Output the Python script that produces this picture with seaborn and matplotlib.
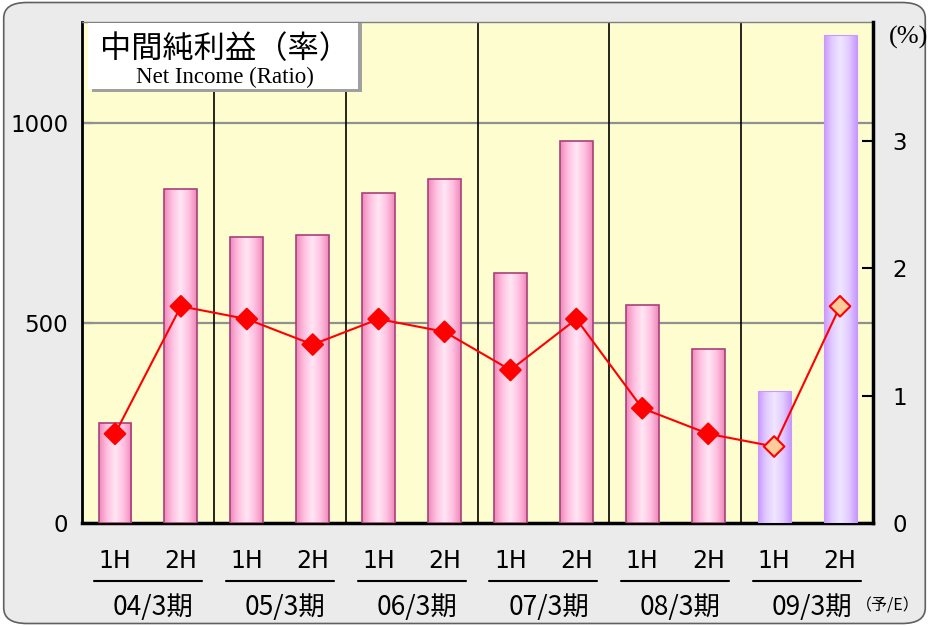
import numpy as np
import matplotlib
matplotlib.use("Agg")
import matplotlib.pyplot as plt
from matplotlib.colors import LinearSegmentedColormap
from matplotlib.patches import FancyBboxPatch, Rectangle
import seaborn as sns

# ---- data ----
years = ["04/3期", "05/3期", "06/3期", "07/3期", "08/3期", "09/3期"]
halves = ["1H", "2H"]
income = [250, 835, 715, 720, 825, 860, 625, 955, 545, 435, 330, 1220]
ratio = [0.7, 1.7, 1.6, 1.4, 1.6, 1.5, 1.2, 1.6, 0.9, 0.7, 0.6, 1.7]
kind = ["actual"] * 10 + ["estimate"] * 2
title_jp = "中間純利益（率）"
title_en = "Net Income (Ratio)"
est_note = "（予/E）"

sns.set_theme(style="white")
plt.rcParams['font.family'] = ['Noto Sans CJK JP', 'DejaVu Sans']
plt.rcParams['text.color'] = 'black'
plt.rcParams['xtick.color'] = 'black'
plt.rcParams['ytick.color'] = 'black'
plt.rcParams['xtick.labelcolor'] = 'black'
plt.rcParams['ytick.labelcolor'] = 'black'

cats = [f"{y} {h}" for y in years for h in halves]
xpos = np.arange(len(cats))

fig = plt.figure(figsize=(9.29, 6.26), dpi=100)
fig.patch.set_facecolor("white")
bg = FancyBboxPatch((0.004, 0.004), 0.992, 0.992, boxstyle="round,pad=0,rounding_size=0.025",
                    transform=fig.transFigure, facecolor="#ebebeb", edgecolor="#606060",
                    linewidth=1.2, zorder=-10)
fig.patches.append(bg)

ax = fig.add_axes([0.0883, 0.1645, 0.8514, 0.8004])
ax.set_facecolor("#fdfdd0")

pal = {c: ("#f6a8d0" if k == "actual" else "#d2a8f8") for c, k in zip(cats, kind)}
sns.barplot(x=cats, y=income, hue=cats, palette=pal, order=cats, hue_order=cats,
            width=0.5, legend=False, ax=ax, zorder=3, saturation=1)

cm_pink = LinearSegmentedColormap.from_list("pk", ["#ee88bb", "#ffc0e0", "#ffe6f4", "#ffc0e0", "#ee88bb"])
cm_purp = LinearSegmentedColormap.from_list("pp", ["#c898ff", "#e2ccff", "#f0e6ff", "#e2ccff", "#c898ff"])
grad = np.linspace(0, 1, 256).reshape(1, -1)
for p, k in zip(ax.patches, kind):
    x0, w, h = p.get_x(), p.get_width(), p.get_height()
    cmap = cm_pink if k == "actual" else cm_purp
    im = ax.imshow(grad, cmap=cmap, aspect="auto", extent=(x0, x0 + w, 0, h), zorder=3.5,
                   interpolation="bilinear")
    im.set_clip_path(p)
    if k == "actual":
        p.set_edgecolor("#a8407a")
        p.set_linewidth(1.2)
    else:
        p.set_edgecolor("#c898ff")
        p.set_linewidth(0.8)
    p.set_zorder(4)
    p.set_facecolor("none")

ax.set_xlim(-0.5, len(cats) - 0.5)
ax.set_ylim(0, 1252)
ax.set_yticks([0, 500, 1000])
ax.set_yticklabels(["0", "500", "1000"], fontsize=16.5, family=['DejaVu Sans'])
for yv in [500, 1000]:
    ax.axhline(yv, color="#909090", lw=1.6, zorder=1)
for xv in [1.5, 3.5, 5.5, 7.5, 9.5]:
    ax.axvline(xv, color="black", lw=1.2, zorder=2)

ax.set_xticks(xpos)
ax.set_xticklabels([h for y in years for h in halves], fontsize=17, family=['DejaVu Sans'])
ax.tick_params(axis="x", length=0, pad=19, labelcolor="black")
ax.tick_params(axis="y", direction="in", length=8, width=1.5, color="black", pad=10, left=True,
               labelcolor="black")
ax.set_xlabel("")
ax.set_ylabel("")
for s in ["left", "bottom", "right", "top"]:
    ax.spines[s].set_color("black")
ax.spines["left"].set_linewidth(2)
ax.spines["bottom"].set_linewidth(2.5)
ax.spines["top"].set_linewidth(1)
ax.spines["top"].set_color("#808080")

trans = ax.get_xaxis_transform()
for i, y in enumerate(years):
    c = 2 * i + 0.5
    ax.plot([c - 0.82, c + 0.82], [-0.116, -0.116], color="black", lw=1.5,
            transform=trans, clip_on=False)
    ax.text(c + 0.08, -0.168, y, transform=trans, ha="center", va="center", fontsize=19,
            color="black")
ax.text(11.72, -0.166, est_note, transform=trans, ha="center", va="center", fontsize=11.5,
        color="black")

ax2 = ax.twinx()
sns.lineplot(x=xpos, y=ratio, ax=ax2, color="red", lw=1.5, zorder=5)
sns.scatterplot(x=xpos, y=ratio, hue=kind, palette={"actual": "red", "estimate": "#ffcc99"},
                marker="D", s=110, edgecolor="red", linewidth=1.5, legend=False, ax=ax2, zorder=6)
ax2.set_ylim(0, 3.93)
ax2.set_yticks([0, 1, 2, 3])
ax2.set_yticklabels(["0", "1", "2", "3"], fontsize=16.5, family=['DejaVu Sans'])
ax2.tick_params(axis="y", direction="in", length=8, width=1.5, color="black", pad=14, right=True,
                labelcolor="black")
ax2.spines["right"].set_linewidth(2.5)
ax2.spines["right"].set_color("black")
for s in ["left", "bottom", "top"]:
    ax2.spines[s].set_visible(False)
ax2.set_ylabel("")
ax2.grid(False)
ax.grid(False)
fig.text(0.9775, 0.94, "(%)", fontsize=19, ha="center", va="center", family=['Liberation Serif'],
         color="black")

sh = Rectangle((0.0990, 0.853), 0.291, 0.111, transform=fig.transFigure,
               facecolor="#a0a0a0", edgecolor="none", zorder=20)
bx = Rectangle((0.0947, 0.858), 0.291, 0.106, transform=fig.transFigure,
               facecolor="white", edgecolor="none", zorder=21)
fig.patches.extend([sh, bx])
fig.text(0.2422, 0.922, title_jp, fontsize=22.5, ha="center", va="center", zorder=22,
         color="black")
fig.text(0.2422, 0.877, title_en, fontsize=16.5, ha="center", va="center", zorder=22,
         family=['Liberation Serif'], color="black")

fig.savefig("out.png", dpi=100, facecolor=fig.get_facecolor())
